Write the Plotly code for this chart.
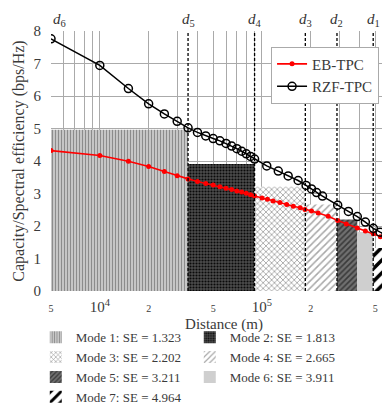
import numpy as np
import plotly.graph_objects as go

# distances (m) of the mode thresholds d6 ... d1
d_vals = [5000, 35000, 90000, 185000, 290000, 485000]
d_names = ["6", "5", "4", "3", "2", "1"]

# bar edges (m) and bar heights
bar_edges = [5000, 35000, 90000, 185000, 290000, 387000, 485000, 680000]
bar_heights = [4.964, 3.911, 3.211, 2.665, 2.202, 1.813, 1.323]
mode_names = ["Mode 1: SE = 1.323", "Mode 2: SE = 1.813", "Mode 3: SE = 2.202",
              "Mode 4: SE = 2.665", "Mode 5: SE = 3.211", "Mode 6: SE = 3.911",
              "Mode 7: SE = 4.964"]
# (shape, fg, bg, size, solidity)
patterns = [("|", "#8c8c8c", "#d2d2d2", 3, 0.45),
            (".", "#0a0a0a", "#4c4c4c", 3, 0.4),
            ("x", "#9a9a9a", "#ffffff", 4, 0.35),
            ("/", "#a8a8a8", "#ffffff", 5, 0.3),
            ("/", "#3a3a3a", "#707070", 4, 0.4),
            ("", "#cfcfcf", "#cfcfcf", 8, 0.3),
            ("/", "#000000", "#ffffff", 9, 0.4)]

eb_x = [5000, 10000, 15000, 20000, 25000, 30000, 35000, 40000, 45000, 50000,
        55000, 60000, 65000, 70000, 75000, 80000, 85000, 90000, 100000, 108000,
        117000, 129000, 142000, 156000, 172000, 184000, 202000, 222000, 256000,
        293000, 331000, 387000, 434000, 486000, 537000, 601000, 674000]
eb_y = [4.32, 4.17, 3.99, 3.83, 3.68, 3.55, 3.45, 3.37, 3.31, 3.26,
        3.21, 3.16, 3.12, 3.08, 3.05, 3.01, 2.96, 2.92, 2.86, 2.82,
        2.77, 2.72, 2.66, 2.61, 2.56, 2.51, 2.46, 2.40, 2.30,
        2.17, 2.06, 1.94, 1.85, 1.76, 1.67, 1.58, 1.47]

rzf_x = [5000, 10000, 15000, 20000, 25000, 30000, 35000, 40000, 45000, 50000,
         55000, 60000, 65000, 70000, 75000, 80000, 85000, 90000, 107000, 126000,
         145000, 167000, 187000, 202000, 217000, 236000, 293000, 341000, 387000,
         434000, 486000, 535000, 582000, 631000, 670000]
rzf_y = [7.76, 6.94, 6.23, 5.76, 5.45, 5.22, 5.02, 4.88, 4.77, 4.69,
         4.62, 4.54, 4.46, 4.38, 4.30, 4.22, 4.14, 4.06, 3.85, 3.69,
         3.54, 3.40, 3.25, 3.14, 3.03, 2.92, 2.64, 2.45, 2.29,
         2.12, 1.93, 1.81, 1.71, 1.62, 1.55]

tick_vals = [5000, 1e4, 2e4, 5e4, 1e5, 2e5, 5e5]
tick_text = ["<span style='font-size:10px'>5</span>", "10<sup>4</sup>",
             "<span style='font-size:10px'>2</span>",
             "<span style='font-size:10px'>5</span>", "10<sup>5</sup>",
             "<span style='font-size:10px'>2</span>",
             "<span style='font-size:10px'>5</span>"]

FONT = "Liberation Serif"
fig = go.Figure()

for i in range(len(bar_heights)):
    a, b = bar_edges[i], bar_edges[i + 1]
    shp, fg, bg, sz, sol = patterns[i]
    fig.add_trace(go.Bar(
        x=[(a + b) / 2], y=[bar_heights[i]], width=[b - a], base=0,
        name=mode_names[i], legend="legend2",
        marker=dict(color=bg, line=dict(width=0),
                    pattern=dict(shape=shp, fgcolor=fg, bgcolor=bg, size=sz,
                                 solidity=sol, fillmode="replace")),
        hoverinfo="skip"))

fig.add_trace(go.Scatter(x=eb_x, y=eb_y, mode="lines+markers", name="EB-TPC",
                         line=dict(color="red", width=1.6),
                         marker=dict(color="red", size=5)))
fig.add_trace(go.Scatter(x=rzf_x, y=rzf_y, mode="lines+markers", name="RZF-TPC",
                         line=dict(color="black", width=1.5),
                         marker=dict(symbol="circle-open", color="black", size=8,
                                     line=dict(width=1.5))))

for dv, dn in zip(d_vals, d_names):
    if dn != "6":
        fig.add_shape(type="line", xref="x", yref="paper", x0=dv, x1=dv, y0=0, y1=1,
                      line=dict(color="black", width=1.3, dash="3px,2px"))
    fig.add_annotation(x=np.log10(dv), y=1.0, xref="x", yref="paper", yanchor="bottom",
                       xanchor="left" if dn == "6" else "center",
                       text=f"<i>d</i><sub>{dn}</sub>", showarrow=False,
                       font=dict(family=FONT, size=15, color="#333"))

minor_vals = [m * 10 ** e for e in (3, 4, 5) for m in range(1, 10)]

fig.update_layout(
    width=390, height=406,
    margin=dict(l=43, r=1, t=23, b=123, autoexpand=False),
    plot_bgcolor="white", paper_bgcolor="white",
    barmode="overlay",
    font=dict(family=FONT, size=14, color="#3a3a3a"),
    xaxis=dict(type="log", range=[np.log10(5000), np.log10(680000)],
               tickvals=tick_vals, ticktext=tick_text, tickfont=dict(size=15),
               showgrid=True, gridcolor="#aaaaaa", gridwidth=0.7,
               minor=dict(tickvals=minor_vals, showgrid=True, gridcolor="#aaaaaa",
                          gridwidth=0.7, ticks=""),
               zeroline=False, showline=False, ticks="", ticklabelstandoff=5,
               automargin=False,
               title=dict(text="Distance (m)", font=dict(size=15), standoff=4)),
    yaxis=dict(range=[0, 8], dtick=1, showgrid=True, gridcolor="#aaaaaa",
               gridwidth=0.7, zeroline=False, showline=False, ticks="",
               tickfont=dict(size=15), ticklabelstandoff=9, automargin=False,
               title=dict(text="Capacity/Spectral efficiency (bps/Hz)",
                          font=dict(size=16), standoff=4)),
    legend=dict(x=0.636, y=0.94, xanchor="left", yanchor="top",
                bgcolor="white", bordercolor="#aaaaaa", borderwidth=1,
                font=dict(size=15), itemwidth=30),
    legend2=dict(orientation="h", x=-0.044, y=-0.12, xanchor="left", yanchor="top",
                 entrywidth=109, font=dict(size=13), bgcolor="rgba(0,0,0,0)",
                 itemwidth=30),
    showlegend=True,
)

fig.write_html("out.html")
